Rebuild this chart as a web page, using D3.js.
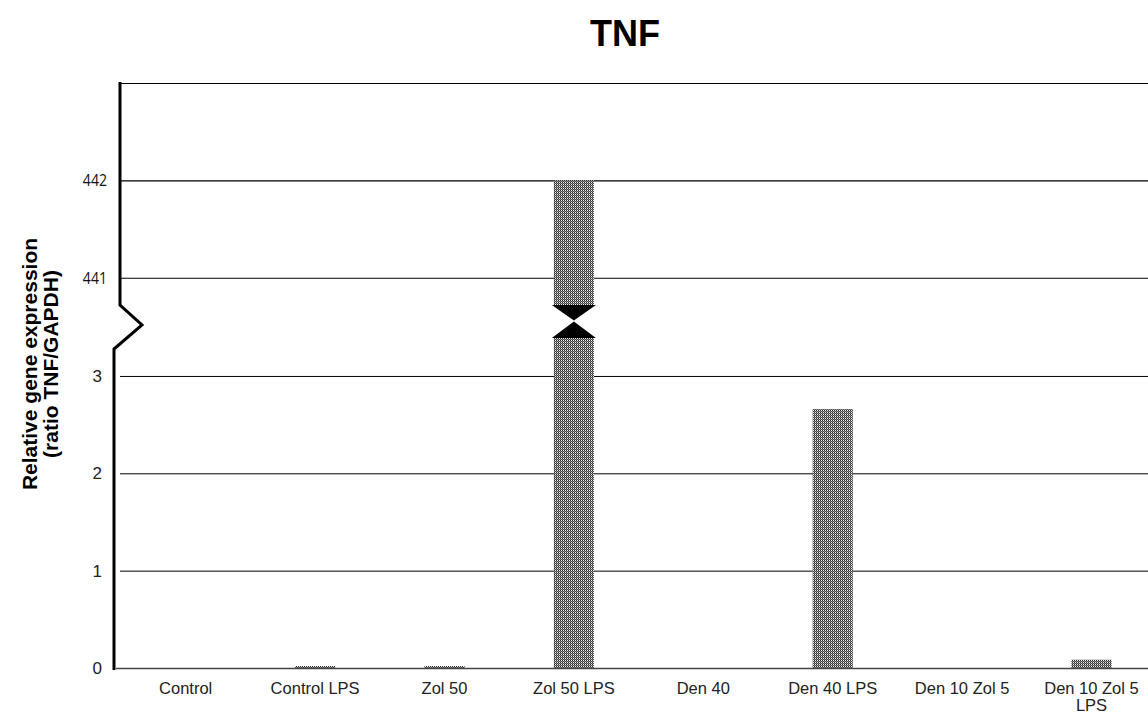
<!DOCTYPE html>
<html>
<head>
<meta charset="utf-8">
<script src="https://cdn.jsdelivr.net/npm/d3@7"></script>
<style>
  body { margin: 0; background: #fff; }
  svg { display: block; font-family: "Liberation Sans", Arial, sans-serif; }
</style>
</head>
<body>
<div id="graph"></div>
<script>
// data
const categories = ["Control", "Control LPS", "Zol 50", "Zol 50 LPS", "Den 40", "Den 40 LPS", "Den 10 Zol 5", "Den 10 Zol 5 LPS"];
const values = [0, 0.02, 0.02, 442, 0, 2.66, 0, 0.085];
const lowTicks = [0, 1, 2, 3];
const highTicks = [441, 442];
const lowDomain = [0, 3.39];
const highDomain = [440.72, 443];

const w = 1148;
const h = 717;
const left = 121;
const bandW = 129.4;

const svg = d3.select("#graph").append("svg").attr("width", w).attr("height", h);

// dotted fill like the original
const defs = svg.append("defs");
const pat = defs.append("pattern")
  .attr("id", "dots")
  .attr("patternUnits", "userSpaceOnUse")
  .attr("width", 2).attr("height", 2);
pat.append("rect").attr("width", 2).attr("height", 2).attr("fill", "#8a8a8a");
pat.append("rect").attr("x", 0).attr("y", 0).attr("width", 1).attr("height", 1).attr("fill", "#2a2a2a");
pat.append("rect").attr("x", 1).attr("y", 0).attr("width", 1).attr("height", 1).attr("fill", "#f0f0f0");
pat.append("rect").attr("x", 1).attr("y", 1).attr("width", 1).attr("height", 1).attr("fill", "#4a4a4a");

const x = d3.scaleBand()
  .domain(categories)
  .range([left, left + bandW * categories.length])
  .paddingInner(0.69)
  .paddingOuter(0.345);

const yLow = d3.scaleLinear().domain(lowDomain).range([668, 338]);
const yHigh = d3.scaleLinear().domain(highDomain).range([305, 83]);

// title
svg.append("text")
  .attr("x", 625).attr("y", 46)
  .attr("text-anchor", "middle")
  .attr("font-size", 36).attr("font-weight", "bold")
  .text("TNF");

// y label
const yl = svg.append("text")
  .attr("transform", "translate(37,364) rotate(-90)")
  .attr("text-anchor", "middle")
  .attr("font-size", 21).attr("font-weight", "bold");
yl.append("tspan").attr("x", 0).attr("dy", 0).text("Relative gene expression");
yl.append("tspan").attr("x", 0).attr("dy", 21).text("(ratio TNF/GAPDH)");

// gridlines
const gx0 = 120, gx1 = w;
svg.selectAll("line.glow").data(lowTicks.filter(d => d > 0)).enter().append("line")
  .attr("x1", gx0).attr("x2", gx1)
  .attr("y1", d => yLow(d) + 0.5).attr("y2", d => yLow(d) + 0.5)
  .attr("stroke", "#000").attr("stroke-width", 1);
svg.selectAll("line.ghigh").data(highTicks.concat([highDomain[1]])).enter().append("line")
  .attr("x1", gx0).attr("x2", gx1)
  .attr("y1", d => yHigh(d) + 0.5).attr("y2", d => yHigh(d) + 0.5)
  .attr("stroke", "#000").attr("stroke-width", 1.2);

// tick labels
svg.selectAll("text.tlow").data(lowTicks).enter().append("text")
  .attr("x", 102).attr("y", d => yLow(d) + 6)
  .attr("text-anchor", "end").attr("font-size", 17)
  .attr("fill", "#222")
  .text(d => d);
svg.selectAll("text.thigh").data(highTicks).enter().append("text")
  .attr("text-anchor", "end").attr("font-size", 16)
  .attr("font-family", "'Open Sans', sans-serif")
  .attr("fill", "#111")
  .attr("transform", d => `translate(107,${yHigh(d) + 6}) scale(0.88,1)`)
  .text(d => d);

// bars (lower part, clipped at break)
const bw = x.bandwidth();
svg.selectAll("rect.bar").data(categories).enter().append("rect")
  .attr("x", d => x(d))
  .attr("width", bw)
  .attr("y", (d, i) => yLow(Math.min(values[i], lowDomain[1])))
  .attr("height", (d, i) => yLow(0) - yLow(Math.min(values[i], lowDomain[1])))
  .attr("fill", "url(#dots)");

// broken bars: upper part and break triangles
const broken = categories.filter((d, i) => values[i] > lowDomain[1]);
broken.forEach(c => {
  const v = values[categories.indexOf(c)];
  const x0 = x(c), x1 = x(c) + bw;
  svg.append("rect")
    .attr("x", x0).attr("width", bw)
    .attr("y", yHigh(v)).attr("height", yHigh(highDomain[0]) - yHigh(v))
    .attr("fill", "url(#dots)");
  const mid = (yHigh(highDomain[0]) + yLow(lowDomain[1])) / 2 - 1;
  const cx = (x0 + x1) / 2;
  svg.append("path")
    .attr("d", `M${x0 - 2},${yHigh(highDomain[0])}L${x1 + 2},${yHigh(highDomain[0])}L${cx},${mid}Z`)
    .attr("fill", "#000");
  svg.append("path")
    .attr("d", `M${x0 - 2},${yLow(lowDomain[1])}L${x1 + 2},${yLow(lowDomain[1])}L${cx},${mid + 1}Z`)
    .attr("fill", "#000");
});

// x axis baseline
svg.append("line")
  .attr("x1", 116).attr("x2", w)
  .attr("y1", yLow(0) + 0.5).attr("y2", yLow(0) + 0.5)
  .attr("stroke", "#444").attr("stroke-width", 1.5);

// broken y axis
const yb = yHigh(highDomain[0]);
svg.append("path")
  .attr("d", `M120,${yHigh(highDomain[1]) - 1}L120,${yb}L142,${yb + 20}L114,${yb + 44}L114,${yLow(0) + 2}`)
  .attr("fill", "none").attr("stroke", "#000").attr("stroke-width", 3)
  .attr("stroke-linejoin", "miter");

// category labels
const xl = svg.selectAll("text.cat").data(categories).enter().append("text")
  .attr("x", d => x(d) + bw / 2)
  .attr("y", 694)
  .attr("text-anchor", "middle").attr("font-size", 16.5)
  .attr("fill", "#222");
xl.each(function (d) {
  const parts = d === "Den 10 Zol 5 LPS" ? ["Den 10 Zol 5", "LPS"] : [d];
  const t = d3.select(this);
  parts.forEach((p, i) => {
    t.append("tspan").attr("x", x(d) + bw / 2).attr("dy", i ? 17 : 0).text(p);
  });
});
</script>
</body>
</html>
